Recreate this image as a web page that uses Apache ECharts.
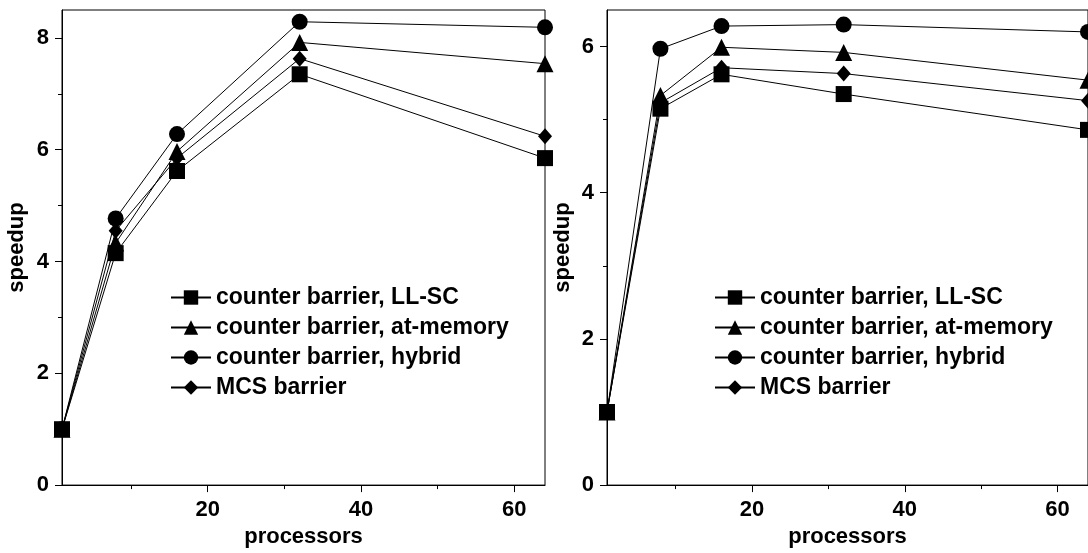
<!DOCTYPE html>
<html>
<head>
<meta charset="utf-8">
<script src="https://cdn.jsdelivr.net/npm/echarts@6/dist/echarts.min.js"></script>
<style>
html,body{margin:0;padding:0;background:#fff;}
#c{width:1088px;height:553px;}
</style>
</head>
<body>
<div id="c"></div>
<script>
// ---- data ----
const processors = [1, 8, 16, 32, 64];
const seriesNames = ['counter barrier, LL-SC', 'counter barrier, at-memory', 'counter barrier, hybrid', 'MCS barrier'];
// left panel
const llscLeft   = [1.0, 4.15, 5.62, 7.35, 5.85];
const atmemLeft  = [1.0, 4.33, 5.97, 7.92, 7.54];
const hybridLeft = [1.0, 4.77, 6.28, 8.29, 8.19];
const mcsLeft    = [1.0, 4.55, 5.85, 7.63, 6.24];
// right panel
const llscRight   = [1.0, 5.15, 5.62, 5.35, 4.86];
const atmemRight  = [1.0, 5.33, 5.99, 5.92, 5.54];
const hybridRight = [1.0, 5.97, 6.28, 6.30, 6.20];
const mcsRight    = [1.0, 5.23, 5.71, 5.63, 5.26];
// ticks
const xMajorTicks = [20, 40, 60];
const xMinorTicks = [10, 30, 50];
const yLeftMajor = [0, 2, 4, 6, 8];
const yLeftMinor = [1, 3, 5, 7];
const yRightMajor = [0, 2, 4, 6];
const yRightMinor = [1, 3, 5];

const FONT = 'Liberation Sans';
const FS = 22;
const LFS = 23;
const black = '#000';

const symbols = {
  'counter barrier, LL-SC': {symbol: 'rect', size: 16},
  'counter barrier, at-memory': {symbol: 'triangle', size: 17},
  'counter barrier, hybrid': {symbol: 'circle', size: 16},
  'MCS barrier': {symbol: 'diamond', size: [14, 16]}
};

function pairs(vals) { return processors.map((p, i) => [p, vals[i]]); }

function mkSeries(name, vals, xi, yi) {
  return {
    type: 'line', name: name, data: pairs(vals),
    xAxisIndex: xi, yAxisIndex: yi,
    symbol: symbols[name].symbol, symbolSize: symbols[name].size,
    showAllSymbol: true,
    lineStyle: {color: black, width: 1},
    itemStyle: {color: black, borderWidth: 0},
    clip: false,
    z: 3
  };
}

function xAxes(gi) {
  return [
    {gridIndex: gi, type: 'value', min: 1, max: 64, position: 'bottom',
     name: 'processors', nameLocation: 'middle', nameGap: 38,
     nameTextStyle: {fontFamily: FONT, fontSize: FS, fontWeight: 'bold', color: black},
     axisLine: {show: true, lineStyle: {color: black, width: 1}},
     axisTick: {show: true, length: 7, lineStyle: {color: black, width: 1}, customValues: xMajorTicks},
     axisLabel: {show: true, margin: 14, customValues: xMajorTicks, fontFamily: FONT, fontSize: FS, fontWeight: 'bold', color: black},
     splitLine: {show: false}},
    {gridIndex: gi, type: 'value', min: 1, max: 64, position: 'bottom',
     axisLine: {show: false},
     axisTick: {show: true, length: 4, lineStyle: {color: black, width: 1}, customValues: xMinorTicks},
     axisLabel: {show: false},
     splitLine: {show: false}}
  ];
}

function yAxes(gi, max, major, minor, gap) {
  return [
    {gridIndex: gi, type: 'value', min: 0, max: max, position: 'left',
     name: 'speedup', nameLocation: 'middle', nameGap: gap, nameRotate: 90,
     nameTextStyle: {fontFamily: FONT, fontSize: FS, fontWeight: 'bold', color: black},
     axisLine: {show: true, lineStyle: {color: black, width: 1}},
     axisTick: {show: true, length: 7, lineStyle: {color: black, width: 1}, customValues: major},
     axisLabel: {show: true, margin: 13, customValues: major, fontFamily: FONT, fontSize: FS, fontWeight: 'bold', color: black},
     splitLine: {show: false}},
    {gridIndex: gi, type: 'value', min: 0, max: max, position: 'left',
     axisLine: {show: false},
     axisTick: {show: true, length: 4, lineStyle: {color: black, width: 1}, customValues: minor},
     axisLabel: {show: false},
     splitLine: {show: false}}
  ];
}

function mkLegend(left) {
  return {
    orient: 'vertical', left: left, top: 281,
    itemWidth: 40, itemHeight: 18, itemGap: 7,
    data: seriesNames,
    textStyle: {fontFamily: FONT, fontSize: LFS, fontWeight: 'bold', color: black},
    selectedMode: false
  };
}

const chart = echarts.init(document.getElementById('c'), null, {renderer: 'canvas'});
chart.setOption({
  animation: false,
  backgroundColor: '#fff',
  grid: [
    {left: 62, top: 10, width: 483, height: 480, show: true, borderColor: black, borderWidth: 1, containLabel: false},
    {left: 607, top: 10, width: 483, height: 480, show: true, borderColor: black, borderWidth: 1, containLabel: false}
  ],
  xAxis: xAxes(0).concat(xAxes(1)),
  yAxis: yAxes(0, 8.5, yLeftMajor, yLeftMinor, 34).concat(yAxes(1, 6.5, yRightMajor, yRightMinor, 33)),
  legend: [mkLegend(165), mkLegend(709)],
  series: [
    mkSeries('counter barrier, hybrid', hybridLeft, 0, 0),
    mkSeries('counter barrier, at-memory', atmemLeft, 0, 0),
    mkSeries('MCS barrier', mcsLeft, 0, 0),
    mkSeries('counter barrier, LL-SC', llscLeft, 0, 0),
    mkSeries('counter barrier, hybrid', hybridRight, 2, 2),
    mkSeries('counter barrier, at-memory', atmemRight, 2, 2),
    mkSeries('MCS barrier', mcsRight, 2, 2),
    mkSeries('counter barrier, LL-SC', llscRight, 2, 2)
  ]
});
</script>
</body>
</html>
